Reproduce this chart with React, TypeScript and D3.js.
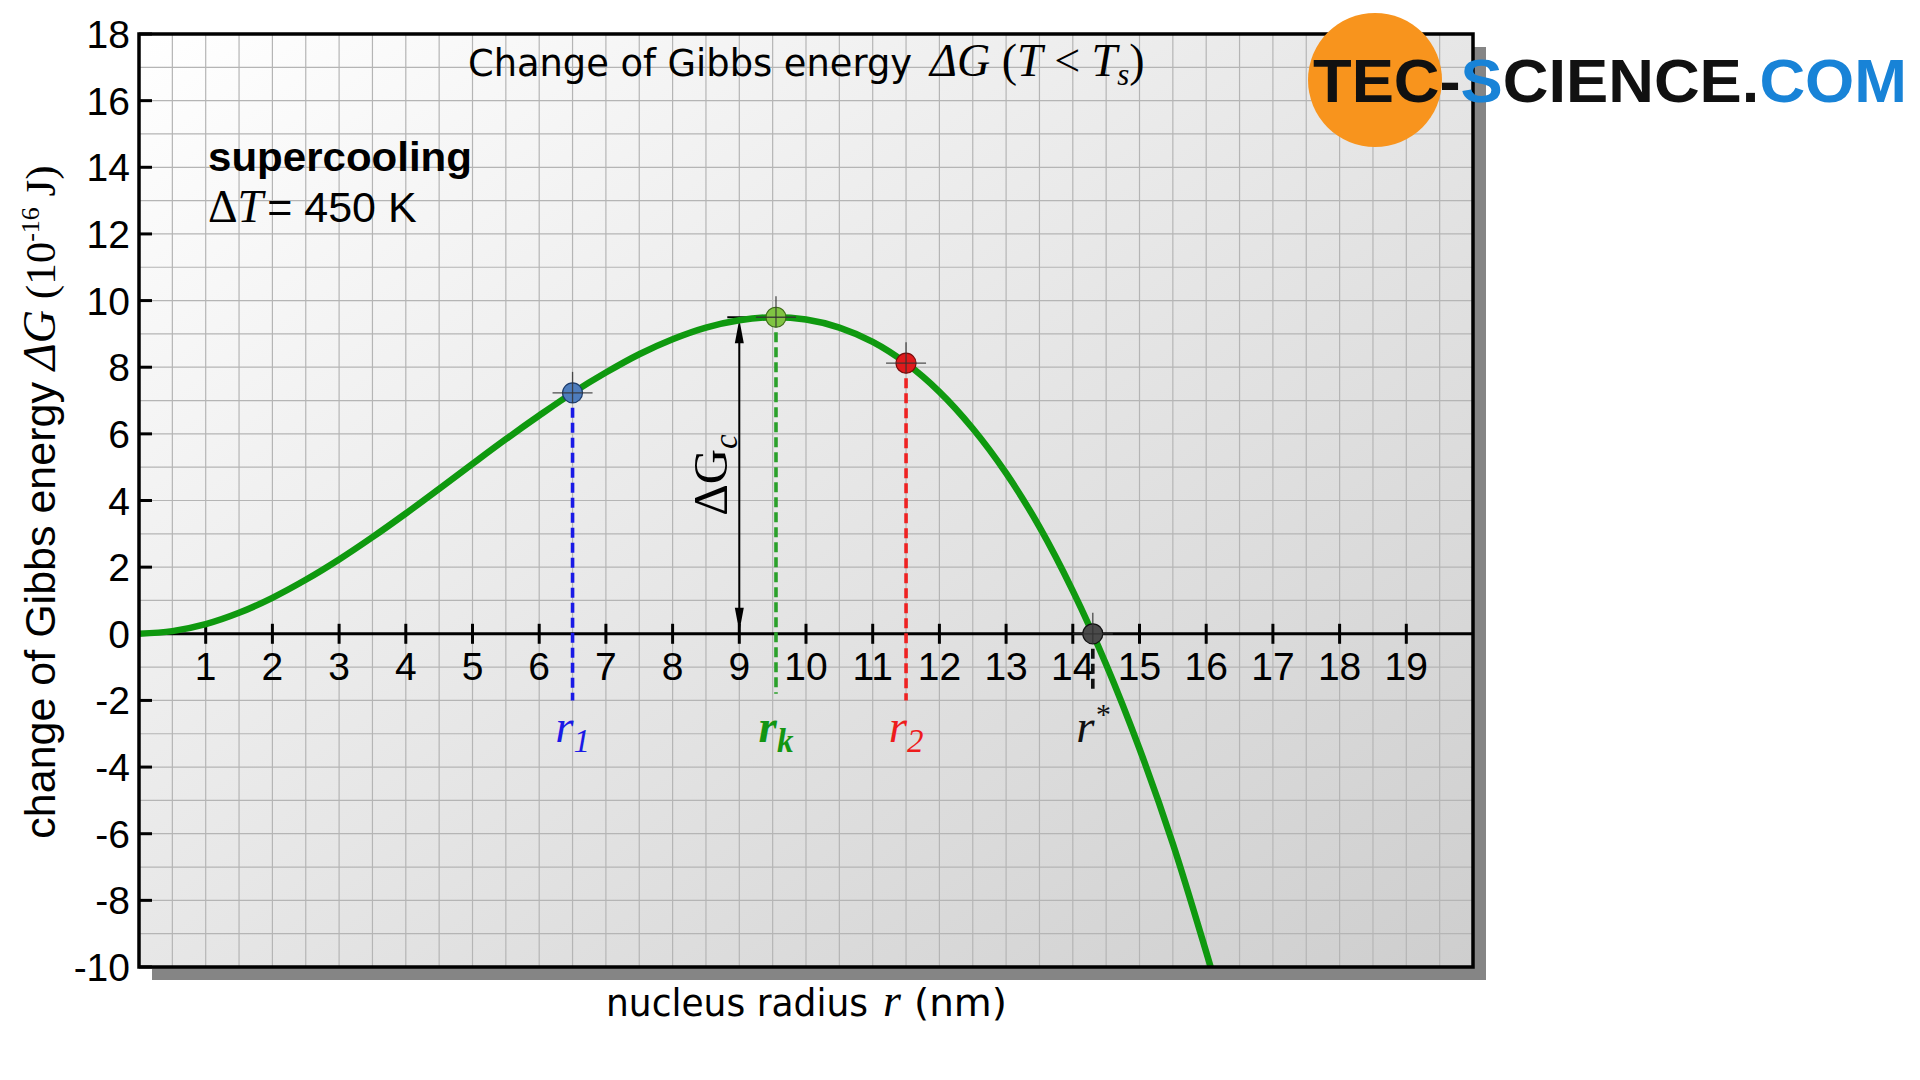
import React from "react";
import * as d3 from "d3";

// ---- data ----
const curveR = [0, 0.5, 1, 1.5, 2, 2.5, 3, 3.5, 4, 4.5, 5, 5.5, 6, 6.5, 7, 7.5, 8, 8.5, 9, 9.5, 10, 10.5, 11, 11.5, 12, 12.5, 13, 13.5, 14, 14.5, 15, 15.5, 16, 16.1];
const curveG = [0, 0.08, 0.29, 0.63, 1.08, 1.62, 2.23, 2.9, 3.61, 4.35, 5.1, 5.84, 6.55, 7.23, 7.84, 8.39, 8.84, 9.19, 9.41, 9.5, 9.43, 9.19, 8.76, 8.12, 7.26, 6.16, 4.82, 3.21, 1.29, -0.92, -3.45, -6.3, -9.55, -10.23];

const xTickLabels = [1, 2, 3, 4, 5, 6, 7, 8, 9, 10, 11, 12, 13, 14, 15, 16, 17, 18, 19];
const yTickLabels = [18, 16, 14, 12, 10, 8, 6, 4, 2, 0, -2, -4, -6, -8, -10];

const markerR = [6.5, 9.55, 11.5, 14.3];
const markerG = [7.23, 9.5, 8.12, 0];
const markerDropTo = [-2.0, -1.8, -2.0, -1.8];
const markerSub = ["1", "k", "2", "*"];

const criticalR = 9;
const criticalG = 9.5;
const criticalBar = [8.82, 9.86];

const SANS = "'Liberation Sans', Arial, sans-serif";
const SERIF = "'Liberation Serif', 'Times New Roman', serif";
const TAHOMA = "'DejaVu Sans', Verdana, sans-serif";

const markerFill = ["#4e7dbd", "#80c443", "#e01a1c", "#4a4a4a"];
const markerStroke = ["#1d3c6b", "#3d6b18", "#7a0b0b", "#111111"];
const dropColor = ["#1a1ae6", "#2aa02a", "#ee2222", "#111111"];
const labelColor = ["#1a1ae6", "#139613", "#ee1c1c", "#111111"];

export default function App() {
  const W = 1920, H = 1080;
  const x = d3.scaleLinear().domain([0, 20]).range([139, 1473]);
  const y = d3.scaleLinear().domain([-10, 18]).range([967, 34]);
  const [x0, x1] = x.range();
  const [y1, y0] = y.range();

  const pts: [number, number][] = curveR.map((r, i) => [x(r), y(curveG[i])]);
  const linePath = d3.line().curve(d3.curveCatmullRom.alpha(0.5))(pts) || "";

  const vGrid = d3.range(0.5, 20, 0.5);
  const hGrid = d3.range(-9, 18, 1);

  const arrowHead = (tipX: number, tipY: number, dir: number) => {
    const len = 24, hw = 4.5;
    return `M${tipX},${tipY} L${tipX - hw},${tipY + dir * len} L${tipX + hw},${tipY + dir * len} Z`;
  };

  return (
    <div style={{ position: "absolute", left: 0, top: 0, width: W, height: H, background: "#fff" }}>
      <svg width={W} height={H} viewBox={`0 0 ${W} ${H}`} style={{ display: "block" }}>
        <defs>
          <linearGradient id="bg" x1="0" y1="0" x2="1" y2="1">
            <stop offset="0%" stopColor="#ffffff" />
            <stop offset="45%" stopColor="#e9e9e9" />
            <stop offset="100%" stopColor="#cecece" />
          </linearGradient>
          <clipPath id="plotClip">
            <rect x={x0} y={y0} width={x1 - x0} height={y1 - y0} />
          </clipPath>
        </defs>

        {/* shadow */}
        <rect x={x0 + 13} y={y0 + 13} width={x1 - x0} height={y1 - y0} fill="#858585" />
        {/* background */}
        <rect x={x0} y={y0} width={x1 - x0} height={y1 - y0} fill="url(#bg)" />

        {/* grid */}
        <g stroke="#b5b5b5" strokeWidth={1.2}>
          {vGrid.map((v) => (
            <line key={"v" + v} x1={x(v)} x2={x(v)} y1={y0} y2={y1} />
          ))}
          {hGrid.map((v) => (
            <line key={"h" + v} x1={x0} x2={x1} y1={y(v)} y2={y(v)} />
          ))}
        </g>

        {/* title */}
        <text x={468} y={76} fontFamily={TAHOMA} fontSize={37} textLength={444} lengthAdjust="spacingAndGlyphs" fill="#000">
          Change of Gibbs energy
        </text>
        <text x={930} y={76} fontFamily={SERIF} fontSize={46} fill="#000">
          <tspan fontStyle="italic">ΔG</tspan>
          <tspan> (</tspan>
          <tspan fontStyle="italic">T</tspan>
          <tspan> &lt; </tspan>
          <tspan fontStyle="italic">T</tspan>
          <tspan fontStyle="italic" fontSize={31} dy={9}>s</tspan>
          <tspan dy={-9}>)</tspan>
        </text>

        {/* supercooling text */}
        <text x={208} y={171} fontFamily={SANS} fontWeight="bold" fontSize={41} textLength={264} lengthAdjust="spacingAndGlyphs" fill="#000">
          supercooling
        </text>
        <text x={208} y={222} fontSize={43} fill="#000">
          <tspan fontFamily={SERIF} fontSize={46}>Δ</tspan>
          <tspan fontFamily={SERIF} fontSize={46} fontStyle="italic">T</tspan>
          <tspan fontFamily={SANS} dx={4}>= 450 K</tspan>
        </text>

        {/* x axis at y=0 */}
        <line x1={x0} x2={x1} y1={y(0)} y2={y(0)} stroke="#000" strokeWidth={3} />
        {xTickLabels.map((t) => (
          <g key={"xt" + t}>
            <line x1={x(t)} x2={x(t)} y1={y(0) - 10} y2={y(0) + 10} stroke="#000" strokeWidth={3} />
            <text x={x(t)} y={680} textAnchor="middle" fontFamily={SANS} fontSize={39} fill="#000">
              {t}
            </text>
          </g>
        ))}

        {/* y axis ticks */}
        {yTickLabels.map((t) => (
          <g key={"yt" + t}>
            <line x1={x0} x2={x0 + 13} y1={y(t)} y2={y(t)} stroke="#000" strokeWidth={3} />
            <text x={130} y={y(t) + 14} textAnchor="end" fontFamily={SANS} fontSize={39} fill="#000">
              {t}
            </text>
          </g>
        ))}

        {/* critical energy arrow */}
        <line x1={x(criticalR)} x2={x(criticalR)} y1={y(0) - 20} y2={y(criticalG) + 20} stroke="#000" strokeWidth={2} />
        <path d={arrowHead(x(criticalR), y(criticalG) + 2, 1)} fill="#000" />
        <path d={arrowHead(x(criticalR), y(0) - 2, -1)} fill="#000" />
        <line x1={x(criticalBar[0])} x2={x(criticalBar[1])} y1={y(criticalG)} y2={y(criticalG)} stroke="#000" strokeWidth={2.2} />
        <text transform={`translate(${727},${475}) rotate(-90)`} textAnchor="middle" fontFamily={SERIF} fontSize={49} fill="#000">
          <tspan>ΔG</tspan>
          <tspan fontStyle="italic" fontSize={33} dy={10}>c</tspan>
        </text>

        {/* drop lines */}
        {markerR.map((r, i) => (
          <line key={"d" + i} x1={x(r)} x2={x(r)} y1={y(markerG[i])} y2={y(markerDropTo[i])}
            stroke={dropColor[i]} strokeWidth={3.6} strokeDasharray="10,5" />
        ))}

        {/* curve */}
        <path d={linePath} fill="none" stroke="#0f990f" strokeWidth={6.5} clipPath="url(#plotClip)" />

        {/* markers */}
        {markerR.map((r, i) => (
          <g key={"m" + i}>
            <circle cx={x(r)} cy={y(markerG[i])} r={10} fill={markerFill[i]} stroke={markerStroke[i]} strokeWidth={1.2} />
            <line x1={x(r) - 20} x2={x(r) + 20} y1={y(markerG[i])} y2={y(markerG[i])} stroke="#333" strokeWidth={1.3} opacity={0.85} />
            <line x1={x(r)} x2={x(r)} y1={y(markerG[i]) - 21} y2={y(markerG[i]) + 10} stroke="#333" strokeWidth={1.3} opacity={0.85} />
          </g>
        ))}

        {/* marker labels */}
        {markerR.map((r, i) => (
          <text key={"l" + i} x={x(r)} y={742} textAnchor="middle" fontFamily={SERIF} fontStyle="italic"
            fontWeight={i === 1 ? "bold" : "normal"} fontSize={47} fill={labelColor[i]}>
            <tspan>r</tspan>
            {i === 3 ? (
              <tspan fontSize={30} dy={-18}>{markerSub[i]}</tspan>
            ) : (
              <tspan fontSize={33} dy={10}>{markerSub[i]}</tspan>
            )}
          </text>
        ))}

        {/* border */}
        <rect x={x0} y={y0} width={x1 - x0} height={y1 - y0} fill="none" stroke="#000" strokeWidth={3.5} />

        {/* y axis label */}
        <text transform={`translate(${55},${502}) rotate(-90)`} textAnchor="middle" fontSize={43} fill="#000">
          <tspan fontFamily={SANS}>change of Gibbs energy </tspan>
          <tspan fontFamily={SERIF} fontStyle="italic" fontSize={46}>ΔG</tspan>
          <tspan fontFamily={SERIF}> (10</tspan>
          <tspan fontFamily={SERIF} fontSize={26} dy={-16}>-16</tspan>
          <tspan fontFamily={SERIF} dy={16}> J)</tspan>
        </text>

        {/* x axis label */}
        <text x={606} y={1016} fontFamily={TAHOMA} fontSize={37} textLength={262} lengthAdjust="spacingAndGlyphs" fill="#000">
          nucleus radius
        </text>
        <text x={883} y={1016} fontFamily={SERIF} fontStyle="italic" fontSize={46} fill="#000">r</text>
        <text x={914} y={1016} fontFamily={TAHOMA} fontSize={37} textLength={93} lengthAdjust="spacingAndGlyphs" fill="#000">
          (nm)
        </text>

        {/* logo */}
        <ellipse cx={1375} cy={80} rx={67} ry={67} fill="#f8941d" />
        <text x={1313} y={102} fontFamily={SANS} fontWeight="bold" fontSize={62} textLength={594} lengthAdjust="spacingAndGlyphs">
          <tspan fill="#111">TEC-</tspan>
          <tspan fill="#1883d7">S</tspan>
          <tspan fill="#111">CIENCE.</tspan>
          <tspan fill="#1883d7">COM</tspan>
        </text>
      </svg>
    </div>
  );
}
